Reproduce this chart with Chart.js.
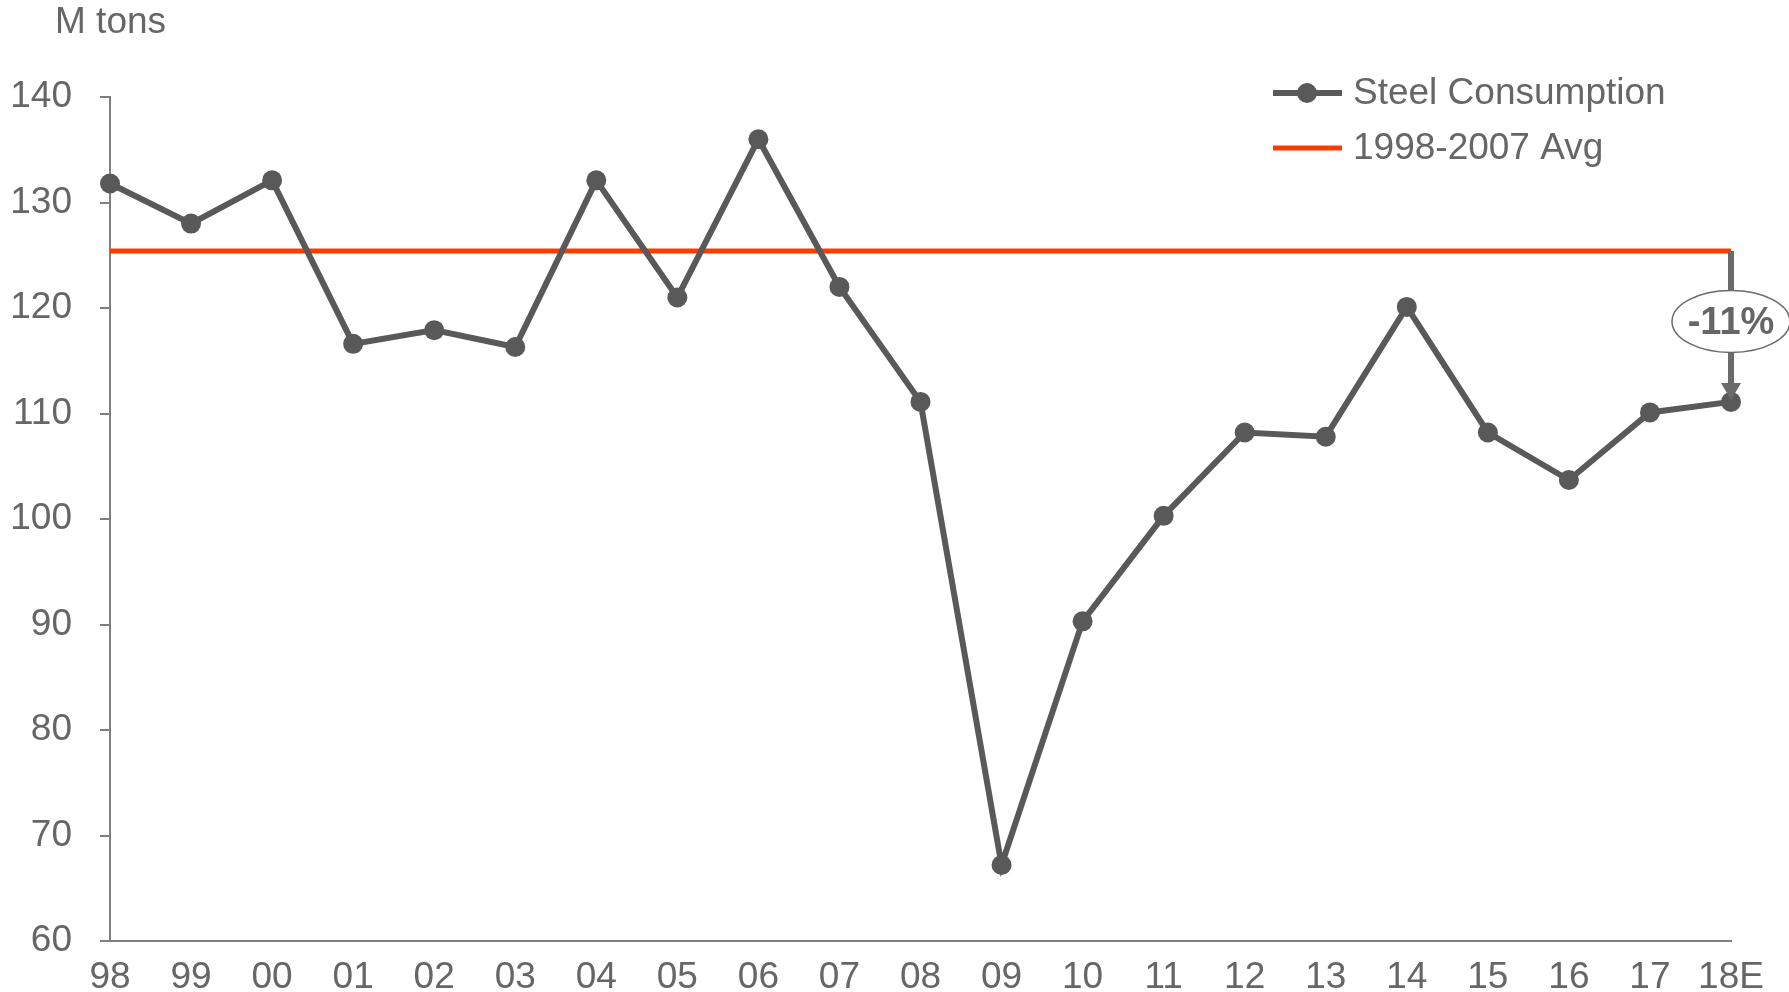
<!DOCTYPE html>
<html lang="en">
<head>
  <meta charset="UTF-8" />
  <title>Steel Consumption</title>
  <script src="https://cdn.jsdelivr.net/npm/chart.js"></script>
  <style>
    body {
      margin: 0;
      background: #ffffff;
    }
    .chart-container {
      width: 1789px;
      height: 992px;
      position: relative;
    }
  </style>
</head>
<body>
  <div class="chart-container">
    <canvas id="steelChart"></canvas>
  </div>

  <script>
    // Data
    const years = ['98', '99', '00', '01', '02', '03', '04', '05', '06', '07',
                   '08', '09', '10', '11', '12', '13', '14', '15', '16', '17', '18E'];
    const steelConsumption = [131.8, 128.0, 132.1, 116.6, 117.9, 116.3, 132.1, 121.0, 136.0, 122.0,
                              111.1, 67.2, 90.3, 100.3, 108.2, 107.8, 120.1, 108.2, 103.7, 110.1, 111.1];
    const avgValue = 125.4;
    const avgSeries = years.map(() => avgValue);
    const changeLabel = '-11%';
    const unitLabel = 'M tons';

    const FONT = 'Arial, "Liberation Sans", sans-serif';
    const TEXT = '#666666';
    const GREY = '#595959';
    const RED = '#ff3c00';
    const AXIS = '#7f7f7f';

    // Unit label, legend and the -11% call-out
    const extras = {
      id: 'extras',
      afterDatasetsDraw(chart) {
        const ctx = chart.ctx;
        const x = chart.scales.x;
        const y = chart.scales.y;
        const last = years.length - 1;
        const px = x.getPixelForValue(last);
        const yTop = y.getPixelForValue(avgValue);
        const yBot = y.getPixelForValue(steelConsumption[last]);

        ctx.save();
        // vertical arrow
        ctx.strokeStyle = '#6b6b6b';
        ctx.lineWidth = 6;
        ctx.beginPath();
        ctx.moveTo(px, yTop);
        ctx.lineTo(px, yBot - 16);
        ctx.stroke();
        ctx.fillStyle = '#6b6b6b';
        ctx.beginPath();
        ctx.moveTo(px - 10, yBot - 19);
        ctx.lineTo(px + 10, yBot - 19);
        ctx.lineTo(px, yBot - 2);
        ctx.closePath();
        ctx.fill();

        // ellipse with label
        const cy = (yTop + yBot) / 2 - 5;
        ctx.beginPath();
        ctx.ellipse(px, cy, 59, 31, 0, 0, Math.PI * 2);
        ctx.fillStyle = '#ffffff';
        ctx.fill();
        ctx.lineWidth = 1.5;
        ctx.strokeStyle = '#6b6b6b';
        ctx.stroke();
        ctx.fillStyle = '#666666';
        ctx.font = 'bold 38px ' + FONT;
        ctx.textAlign = 'center';
        ctx.textBaseline = 'middle';
        ctx.fillText(changeLabel, px, cy + 2);
        ctx.restore();
      },
      afterDraw(chart) {
        const ctx = chart.ctx;
        ctx.save();
        ctx.font = '37px ' + FONT;
        ctx.fillStyle = TEXT;
        ctx.textBaseline = 'middle';
        ctx.textAlign = 'left';
        ctx.fillText(unitLabel, 55, 23);

        // legend
        const items = chart.data.datasets;
        const rows = [93, 148];
        items.forEach((ds, i) => {
          const ly = rows[i];
          ctx.strokeStyle = ds.borderColor;
          ctx.lineWidth = ds.borderWidth;
          ctx.beginPath();
          ctx.moveTo(1273, ly);
          ctx.lineTo(1342, ly);
          ctx.stroke();
          if (ds.pointRadius > 0) {
            ctx.fillStyle = ds.pointBackgroundColor;
            ctx.beginPath();
            ctx.arc(1307, ly, 10, 0, Math.PI * 2);
            ctx.fill();
          }
          ctx.fillStyle = TEXT;
          ctx.fillText(ds.label, 1353, ly + 1);
        });
        ctx.restore();
      }
    };

    const ctx = document.getElementById('steelChart').getContext('2d');
    const steelChart = new Chart(ctx, {
      type: 'line',
      data: {
        labels: years,
        datasets: [
          {
            label: 'Steel Consumption',
            data: steelConsumption,
            borderColor: GREY,
            borderWidth: 6,
            pointRadius: 10,
            pointBackgroundColor: GREY,
            pointBorderWidth: 0,
            tension: 0,
            clip: false,
            order: 1
          },
          {
            label: '1998-2007 Avg',
            data: avgSeries,
            borderColor: RED,
            borderWidth: 5,
            pointRadius: 0,
            tension: 0,
            clip: false,
            order: 2
          }
        ]
      },
      options: {
        responsive: true,
        maintainAspectRatio: false,
        animation: false,
        layout: {
          padding: { left: 12, right: 58, top: 97, bottom: 0 }
        },
        scales: {
          x: {
            offset: false,
            grid: { display: false, drawTicks: false },
            border: { display: true, color: AXIS, width: 2 },
            ticks: {
              color: TEXT,
              font: { size: 37, family: FONT },
              padding: 15,
              maxRotation: 0,
              autoSkip: false
            },
            afterFit(scale) { scale.height = 51; }
          },
          y: {
            min: 60,
            max: 140,
            grid: {
              display: true,
              drawOnChartArea: false,
              drawTicks: true,
              tickLength: 10,
              color: AXIS,
              lineWidth: 2
            },
            border: { display: true, color: AXIS, width: 2 },
            ticks: {
              stepSize: 10,
              color: TEXT,
              font: { size: 37, family: FONT },
              padding: 28
            },
            afterFit(scale) { scale.width = 98; }
          }
        },
        plugins: {
          legend: { display: false },
          tooltip: { enabled: false }
        }
      },
      plugins: [extras]
    });
  </script>
</body>
</html>
